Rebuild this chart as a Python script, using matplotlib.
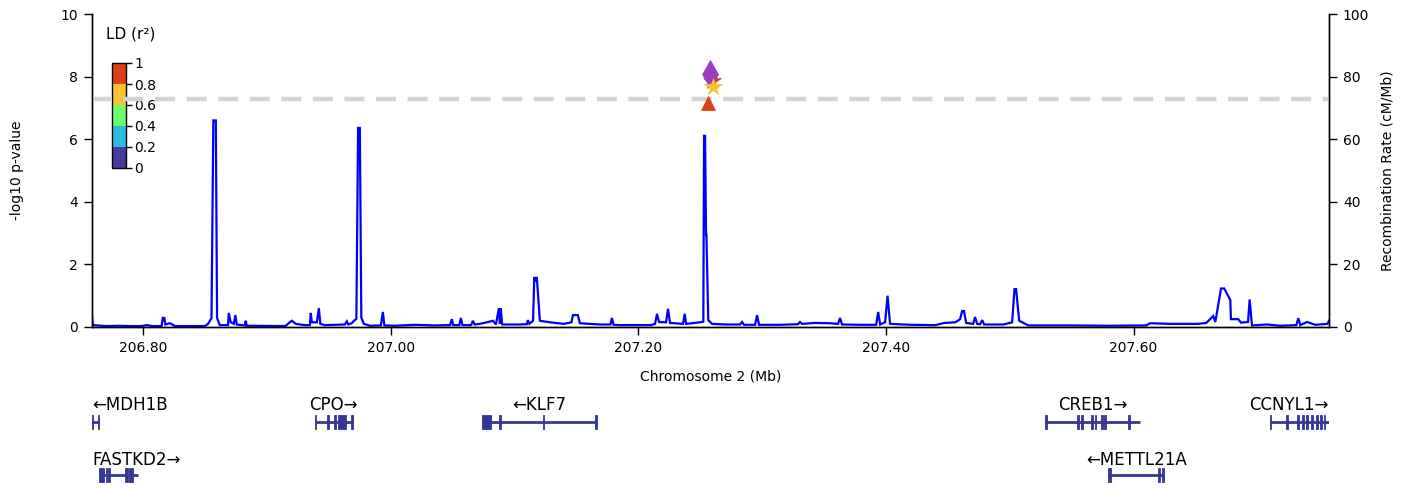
import matplotlib
matplotlib.use("Agg")
import matplotlib.pyplot as plt
from matplotlib.colors import ListedColormap, BoundaryNorm
from matplotlib.colorbar import ColorbarBase
from matplotlib.patches import Rectangle

plt.rcParams['font.family'] = ['DejaVu Sans']

# ---------------- data ----------------
x_range = (206.7588, 207.7578)          # Mb, chromosome 2
gwas_threshold = 7.30                   # -log10(5e-8)

# recombination rate (cM/Mb)
recomb_pos = [
    206.7586, 206.7594, 206.7700, 206.7800, 206.7900, 206.7990, 206.8030, 206.8080,
    206.8150, 206.8160, 206.8172, 206.8180, 206.8216, 206.8260, 206.8500, 206.8525,
    206.8553, 206.8568, 206.8588, 206.8598, 206.8620, 206.8687, 206.8692, 206.8709,
    206.8733, 206.8746, 206.8757, 206.8822, 206.8830, 206.8838, 206.9150, 206.9185,
    206.9202, 206.9234, 206.9307, 206.9347, 206.9355, 206.9363, 206.9404, 206.9420,
    206.9432, 206.9468, 206.9630, 206.9646, 206.9658, 206.9686, 206.9702, 206.9723,
    206.9737, 206.9751, 206.9763, 206.9783, 206.9832, 206.9921, 206.9937, 206.9949,
    207.0034, 207.0200, 207.0350, 207.0480, 207.0494, 207.0505, 207.0555, 207.0567,
    207.0580, 207.0650, 207.0664, 207.0678, 207.0721, 207.0777, 207.0826, 207.0850,
    207.0874, 207.0882, 207.0890, 207.0900, 207.1044, 207.1100, 207.1108, 207.1120,
    207.1150, 207.1160, 207.1170, 207.1180, 207.1205, 207.1286, 207.1400, 207.1460,
    207.1472, 207.1512, 207.1528, 207.1690, 207.1775, 207.1787, 207.1800, 207.1852,
    207.2100, 207.2135, 207.2151, 207.2167, 207.2224, 207.2240, 207.2256, 207.2361,
    207.2375, 207.2386, 207.2498, 207.2525, 207.2531, 207.2539, 207.2547, 207.2550,
    207.2565, 207.2595, 207.2700, 207.2822, 207.2838, 207.2854, 207.2943, 207.2959,
    207.2975, 207.3150, 207.3290, 207.3306, 207.3322, 207.3428, 207.3549, 207.3613,
    207.3629, 207.3645, 207.3800, 207.3921, 207.3937, 207.3953, 207.3993, 207.4013,
    207.4033, 207.4200, 207.4400, 207.4470, 207.4560, 207.4599, 207.4615, 207.4630,
    207.4648, 207.4704, 207.4720, 207.4736, 207.4761, 207.4777, 207.4793, 207.4950,
    207.5019, 207.5038, 207.5051, 207.5076, 207.5150, 207.5500, 207.5800, 207.6100,
    207.6134, 207.6300, 207.6450, 207.6522, 207.6587, 207.6643, 207.6660, 207.6706,
    207.6732, 207.6781, 207.6786, 207.6845, 207.6867, 207.6924, 207.6937, 207.6956,
    207.7077, 207.7185, 207.7314, 207.7330, 207.7346, 207.7401, 207.7468, 207.7565,
    207.7578,
]
recomb_rate = [
    4.5, 0.6, 0.3, 0.4, 0.3, 0.3, 0.6, 0.3,
    0.3, 2.9, 2.9, 0.8, 1.2, 0.3, 0.3, 1.0,
    2.8, 66.0, 66.0, 2.9, 0.6, 0.6, 4.5, 1.5,
    1.0, 3.8, 0.8, 0.5, 2.0, 0.4, 0.3, 1.5,
    2.0, 1.0, 0.6, 0.6, 4.5, 1.5, 1.5, 6.0,
    1.0, 0.6, 0.8, 1.8, 0.8, 1.2, 1.9, 2.6,
    63.6, 63.6, 3.0, 1.0, 0.4, 0.5, 4.8, 0.5,
    0.4, 0.7, 0.5, 0.6, 2.5, 0.6, 0.6, 2.9,
    0.6, 0.6, 2.0, 0.8, 1.0, 1.5, 2.0, 0.8,
    6.0, 1.0, 6.0, 0.8, 0.8, 0.9, 2.2, 1.0,
    2.0, 16.0, 14.5, 16.0, 2.0, 1.5, 1.0, 1.5,
    3.8, 3.8, 1.2, 0.8, 0.8, 2.9, 0.7, 0.6,
    0.6, 1.0, 4.2, 1.6, 1.5, 5.8, 1.3, 1.0,
    4.2, 1.0, 1.5, 1.7, 61.1, 61.1, 29.4, 29.4,
    2.2, 1.0, 0.8, 0.8, 1.6, 0.7, 0.7, 3.8,
    0.7, 0.7, 0.9, 1.6, 1.0, 1.3, 1.2, 1.0,
    2.9, 0.8, 0.7, 0.7, 4.8, 0.8, 1.5, 10.0,
    1.0, 0.7, 0.6, 1.3, 1.5, 2.5, 5.1, 5.1,
    1.3, 1.0, 3.2, 1.0, 0.9, 2.2, 0.8, 0.8,
    1.5, 12.1, 12.1, 2.0, 0.5, 0.5, 0.4, 0.5,
    1.2, 1.0, 1.0, 1.0, 1.3, 3.5, 1.6, 12.3,
    12.3, 8.6, 2.5, 2.5, 1.4, 1.6, 8.8, 0.5,
    0.8, 0.4, 0.6, 2.8, 0.6, 1.6, 0.7, 1.0,
    2.0,
]

# associated variants: position (Mb), -log10 p, LD r2, marker
snp_pos = [207.2565, 207.2594, 207.2578, 207.2604]
snp_logp = [7.17, 7.86, 8.08, 7.67]
snp_r2 = [0.90, 0.90, None, 0.70]        # None = index variant
snp_marker = ['^', '*', 'd', '*']

# LD colour bins
ld_bounds = [0, 0.2, 0.4, 0.6, 0.8, 1.0]
ld_colors = ['#463B9A', '#2ABDE0', '#6BFF6A', '#F9C232', '#DC3F14']
ld_ticklabels = ['0', '0.2', '0.4', '0.6', '0.8', '1']
index_color = '#9A3DC0'

# genes: name, strand, start, end, exons, track row
gene_names = ['MDH1B', 'FASTKD2', 'CPO', 'KLF7', 'CREB1', 'METTL21A', 'CCNYL1']
gene_strand = ['-', '+', '+', '-', '+', '-', '+']
gene_start = [206.7376, 206.7644, 206.9387, 207.0735, 207.5287, 207.5797, 207.7099]
gene_end = [206.7646, 206.7960, 206.9692, 207.1664, 207.6048, 207.6245, 207.7575]
gene_row = [0, 1, 0, 0, 0, 1, 0]
gene_exons = [
    [(206.7588, 206.7600), (206.7634, 206.7646)],
    [(206.7644, 206.7682), (206.7698, 206.7709), (206.7720, 206.7736),
     (206.7852, 206.7876), (206.7884, 206.7919)],
    [(206.9387, 206.9401), (206.9487, 206.9501), (206.9543, 206.9557),
     (206.9576, 206.9638), (206.9676, 206.9692)],
    [(207.0735, 207.0807), (207.0877, 207.0888), (207.1227, 207.1238),
     (207.1648, 207.1664)],
    [(207.5287, 207.5300), (207.5542, 207.5555), (207.5577, 207.5591),
     (207.5658, 207.5672), (207.5685, 207.5698), (207.5739, 207.5752),
     (207.5763, 207.5777), (207.5954, 207.5967)],
    [(207.5797, 207.5817), (207.6201, 207.6215), (207.6229, 207.6245)],
    [(207.7099, 207.7113), (207.7234, 207.7248), (207.7320, 207.7333),
     (207.7361, 207.7373), (207.7395, 207.7409), (207.7436, 207.7449),
     (207.7477, 207.7490), (207.7508, 207.7522), (207.7535, 207.7546)],
]
gene_color = '#363696'

# ---------------- figure ----------------
W, H = 1412, 488
fig = plt.figure(figsize=(W / 100, H / 100), dpi=100)
L, R = 92 / W, 1329 / W
ax = fig.add_axes([L, 1 - 327 / H, R - L, (327 - 14) / H])
ax2 = ax.twinx()
ax.set_zorder(ax2.get_zorder() + 1)
ax.patch.set_visible(False)

# recombination rate
ax2.plot(recomb_pos, recomb_rate, color='#0000FF', lw=1.6, solid_joinstyle='miter')
ax2.set_ylim(0, 100)
ax2.set_yticks(range(0, 101, 20))

# significance threshold
ax.axhline(gwas_threshold, color='#D3D3D3', lw=3.2, dashes=(4.5, 2.6), zorder=1)

# variants
cmap = ListedColormap(ld_colors)
norm = BoundaryNorm(ld_bounds, cmap.N)
marker_size = {'^': 9.5, '*': 13.0, 'd': 14.0}
for p, v, r2, m in zip(snp_pos, snp_logp, snp_r2, snp_marker):
    c = index_color if r2 is None else cmap(norm(r2))
    ax.plot([p], [v], marker=m, ms=marker_size[m], color=c, mec=c, mew=0.5,
            ls='none', zorder=3)

ax.set_xlim(*x_range)
ax2.set_xlim(*x_range)
ax.set_ylim(0, 10)
ax.set_yticks(range(0, 11, 2))
ax.set_xticks([206.8, 207.0, 207.2, 207.4, 207.6])
ax.set_xticklabels([f"{t:.2f}" for t in ax.get_xticks()])

for a in (ax, ax2):
    a.spines['top'].set_visible(False)
    for s in a.spines.values():
        s.set_linewidth(1.0)
    a.tick_params(direction='out', length=6, width=1, labelsize=10, pad=4)

ax.set_xlabel('Chromosome 2 (Mb)', fontsize=10)
ax.xaxis.set_label_coords(0.5, -0.137)
ax.set_ylabel('-log10 p-value', fontsize=10)
ax.yaxis.set_label_coords(-0.055, 0.5)
ax2.set_ylabel('Recombination Rate (cM/Mb)', fontsize=10, rotation=90)
ax2.yaxis.set_label_coords(1.042, 0.5)

# LD legend
fig.text(106 / W, 1 - 34 / H, 'LD (r\u00b2)', fontsize=11, ha='left', va='center')
cax = fig.add_axes([112 / W, 1 - 168 / H, 14 / W, 105 / H])
cb = ColorbarBase(cax, cmap=cmap, norm=norm, boundaries=ld_bounds, ticks=ld_bounds,
                  orientation='vertical')
cb.outline.set_linewidth(1.0)
cb.set_ticklabels(ld_ticklabels)
cax.tick_params(length=4, width=1, labelsize=10, pad=2)

# gene track
gax = fig.add_axes([L, 0, R - L, 103 / H])
gax.set_xlim(*x_range)
gax.set_ylim(0, 1)
gax.axis('off')
row_line = [0.64, 0.126]
row_label = [0.806, 0.272]
exon_h = 0.13
labels = []
for name, strand, s, e, exons, row in zip(gene_names, gene_strand, gene_start,
                                          gene_end, gene_exons, gene_row):
    y = row_line[row]
    gax.plot([s, e], [y, y], color=gene_color, lw=2.0, solid_capstyle='butt')
    for es, ee in exons:
        gax.add_patch(Rectangle((es, y - exon_h / 2), ee - es, exon_h,
                                facecolor=gene_color, edgecolor=gene_color, lw=0.6))
    txt = ('\u2190' + name) if strand == '-' else (name + '\u2192')
    t = gax.text((s + e) / 2, row_label[row], txt, fontsize=12, ha='center',
                 va='center', color='black')
    labels.append(t)

fig.canvas.draw()
renderer = fig.canvas.get_renderer()
gbox = gax.get_window_extent(renderer)
for t in labels:
    bb = t.get_window_extent(renderer)
    if bb.x0 < gbox.x0:
        t.set_ha('left')
        t.set_x(x_range[0])
    elif bb.x1 > gbox.x1:
        t.set_ha('right')
        t.set_x(x_range[1])

fig.savefig('out.png', dpi=100)
